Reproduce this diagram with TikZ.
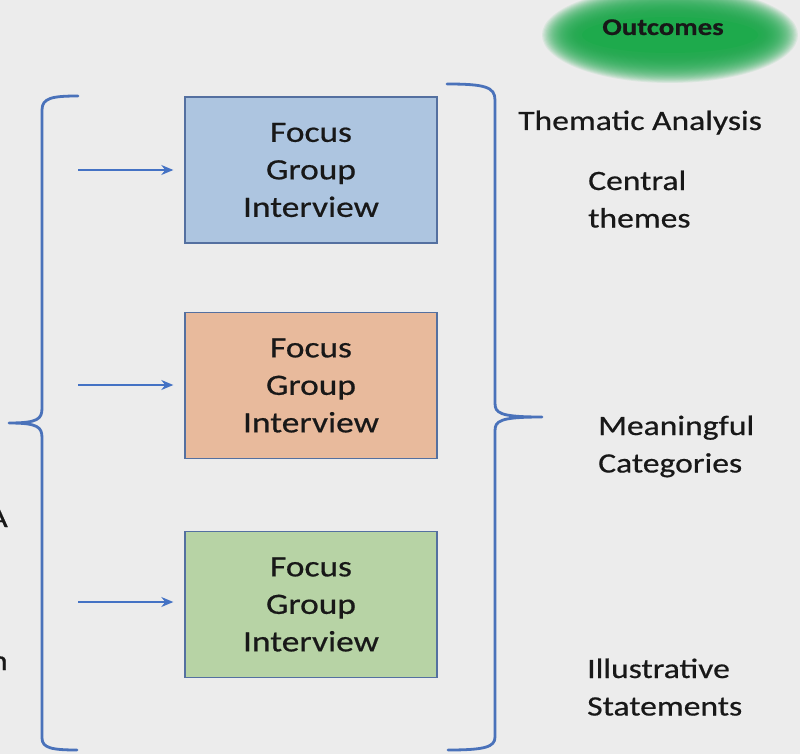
\documentclass[tikz,border=0pt]{standalone}
\usepackage{fontspec}
\setmainfont{Carlito}[FakeStretch=1.2, FakeBold=0.6]
\usetikzlibrary{arrows.meta}

\definecolor{bg}{RGB}{236,236,236}
\definecolor{bracecol}{RGB}{74,114,186}
\definecolor{arrowcol}{RGB}{68,114,196}
\definecolor{boxline}{RGB}{84,112,160}
\definecolor{fillblue}{RGB}{173,197,224}
\definecolor{fillpeach}{RGB}{232,186,156}
\definecolor{fillgreen}{RGB}{183,211,165}
\definecolor{glowgreen}{RGB}{30,170,76}
\definecolor{txt}{RGB}{24,24,24}

\tikzset{
  labelfont/.style={font=\fontsize{28}{37.5}\selectfont, text=txt},
  fgbox/.style={draw=boxline, line width=1.4pt, minimum width=252pt,
    minimum height=146pt, inner sep=0pt, align=center,
    font=\fontsize{29.5}{37.5}\selectfont, text=txt},
  feed/.style={draw=arrowcol, line width=1.3pt,
    -{Stealth[length=12pt,width=10pt]}},
  bracket/.style={draw=bracecol, line width=2.8pt, line cap=round},
  sidelabel/.style={anchor=base west, inner sep=0pt, labelfont},
}

\newcommand{\stack}[1]{\begin{tabular}[t]{@{}l@{}}#1\end{tabular}}

\begin{document}
\begin{tikzpicture}[x=1pt, y=-1pt]
  % canvas
  \fill[bg] (0,0) rectangle (800,754);
  \useasboundingbox (0,0) rectangle (800,754);

  % soft green glow behind the "Outcomes" label: stacked translucent ellipses
  \foreach \k in {0,...,31} {
    \fill[glowgreen, opacity=0.085]
      (670,35) ellipse [x radius={128-\k*1.2}, y radius={48-\k*0.9}];
  }
  \fill[glowgreen] (670,35) ellipse [x radius=88, y radius=18];
  \node[anchor=base, inner sep=0pt, text=txt,
        font=\fontsize{24}{28}\selectfont\bfseries] (outcomes) at (663,35) {Outcomes};

  % clipped text at the left edge
  \node[anchor=base east, inner sep=0pt, labelfont] (cutA) at (8,527) {A};
  \node[anchor=base east, inner sep=0pt, labelfont] (cutn) at (8,670) {n};

  % focus group boxes
  \node[fgbox, fill=fillblue]  (fg1) at (311,170)   {Focus\\Group\\Interview};
  \node[fgbox, fill=fillpeach] (fg2) at (311,385.5) {Focus\\Group\\Interview};
  \node[fgbox, fill=fillgreen] (fg3) at (311,604.5) {Focus\\Group\\Interview};

  % input arrows
  \coordinate (in1) at (78,170);
  \coordinate (in2) at (78,385);
  \coordinate (in3) at (78,602);
  \draw[feed] (in1) -- ([xshift=-11pt]in1 -| fg1.west);
  \draw[feed] (in2) -- ([xshift=-11pt]in2 -| fg2.west);
  \draw[feed] (in3) -- ([xshift=-11pt]in3 -| fg3.west);

  % left brace
  \draw[bracket]
    (78,96) .. controls (52,96) and (42,98) .. (42,110)
    -- (42,408) .. controls (42,419) and (38,423) .. (9,423)
    (9,423) .. controls (38,423) and (42,427) .. (42,438)
    -- (42,738) .. controls (42,748) and (52,750) .. (77,750);

  % right brace
  \draw[bracket]
    (447,84) .. controls (485,84) and (495,87) .. (495,100)
    -- (495,403) .. controls (495,413) and (499,417) .. (542,417)
    (542,417) .. controls (499,417) and (495,421) .. (495,431)
    -- (495,737) .. controls (495,747) and (485,750) .. (448,750);

  % outcome labels
  \node[sidelabel] (thematic) at (518,130) {Thematic Analysis};
  \node[sidelabel] (central)  at (588,190) {\stack{Central\\themes}};
  \node[sidelabel] (meaning)  at (598,435) {\stack{Meaningful\\Categories}};
  \node[sidelabel] (illus)    at (587,678) {\stack{Illustrative\\Statements}};
\end{tikzpicture}
\end{document}
